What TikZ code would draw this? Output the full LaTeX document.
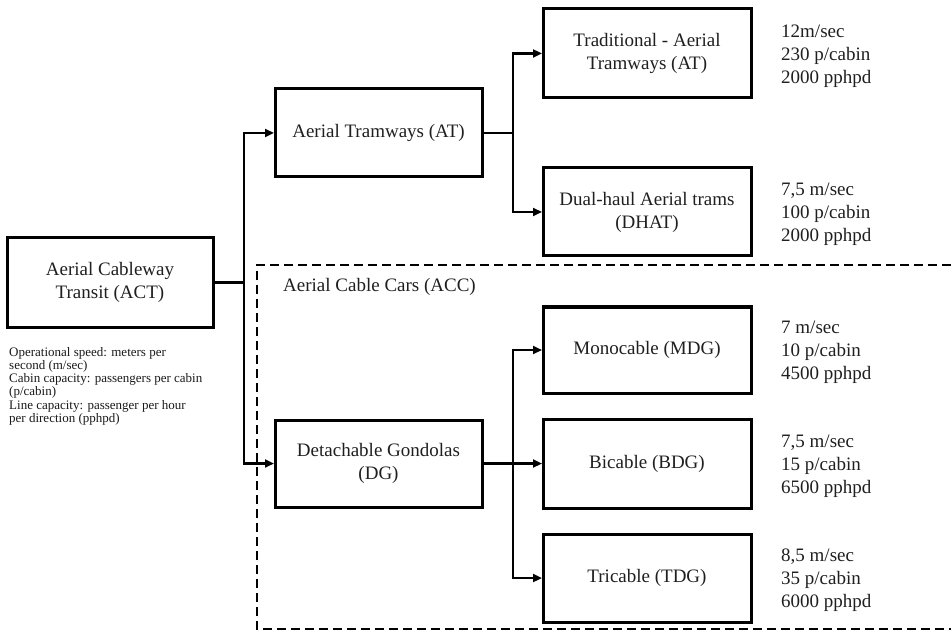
\documentclass[tikz,border=0pt]{standalone}
\usepackage{fontspec}
\setmainfont{Liberation Serif}
\usetikzlibrary{arrows.meta}
\tikzset{
  box/.style={draw=black, line width=3pt, minimum width=206pt, minimum height=87pt, inner sep=0pt, align=center, font=\fontsize{19}{23}\selectfont, text=black!88},
  conn/.style={draw=black, line width=2.7pt},
  arr/.style={conn, -{Triangle[length=9pt,width=8pt]}, shorten >=-0.5pt},
  vals/.style={anchor=west, inner sep=0pt, align=left, font=\fontsize{19}{23}\selectfont, text=black!88},
  note/.style={anchor=north west, inner sep=0pt, align=left, font=\fontsize{13}{13.2}\selectfont, text=black!90},
  accbox/.style={draw=black, line width=2.8pt, dash pattern=on 9pt off 5pt}
}
\begin{document}
\begin{tikzpicture}[x=1pt,y=-1pt]
\useasboundingbox (0,0) rectangle (951,631);
% dashed group
\draw[accbox] (951,265) -- (257,265) -- (257,629) -- (951,629);
\node[anchor=west, inner sep=0pt, font=\fontsize{19}{23}\selectfont, text=black!88] (acc) at (283,287) {Aerial Cable Cars (ACC)};
% boxes
\node[box, minimum width=206pt, minimum height=89pt] (act) at (110,282.5) {Aerial Cableway\\Transit (ACT)};
\node[box, minimum width=207pt, minimum height=88pt] (at) at (378.5,133) {Aerial Tramways (AT)};
\node[box, minimum width=207pt, minimum height=87pt] (dg) at (378.5,463.5) {Detachable Gondolas\\(DG)};
\node[box, minimum width=208pt, minimum height=89pt] (tat) at (647,53.5) {Traditional - Aerial\\Tramways (AT)};
\node[box, minimum width=208pt, minimum height=88pt] (dhat) at (647,212) {Dual-haul Aerial trams\\(DHAT)};
\node[box, minimum width=208pt, minimum height=86pt] (mdg) at (647,350) {Monocable (MDG)};
\node[box, minimum width=208pt, minimum height=89pt] (bdg) at (647,463.5) {Bicable (BDG)};
\node[box, minimum width=208pt, minimum height=88pt] (tdg) at (647,578) {Tricable (TDG)};
% values
\node[vals] (vtat) at (781,56) {12m/sec\\230 p/cabin\\2000 pphpd};
\node[vals] (vdhat) at (781,214) {7,5 m/sec\\100 p/cabin\\2000 pphpd};
\node[vals] (vmdg) at (781,352) {7 m/sec\\10 p/cabin\\4500 pphpd};
\node[vals] (vbdg) at (781,466) {7,5 m/sec\\15 p/cabin\\6500 pphpd};
\node[vals] (vtdg) at (781,580) {8,5 m/sec\\35 p/cabin\\6000 pphpd};
% note
\node[note] (nt) at (9,347) {Operational speed: meters per\\second (m/sec)\\Cabin capacity: passengers per cabin\\(p/cabin)\\Line capacity: passenger per hour\\per direction (pphpd)};
% junctions
\coordinate (ja) at (244,282.5);
\coordinate (jb) at (513,133);
\coordinate (jc) at (513,463.5);
% connectors
\draw[conn] (act.east) -- (ja);
\draw[arr] (ja) |- (at.west);
\draw[arr] (ja) |- (dg.west);
\draw[conn] (at.east) -- (jb);
\draw[arr] (jb) |- (tat.west);
\draw[arr] (jb) |- (dhat.west);
\draw[arr] (dg.east) -- (bdg.west);
\draw[arr] (jc) |- (mdg.west);
\draw[arr] (jc) |- (tdg.west);
\end{tikzpicture}
\end{document}
